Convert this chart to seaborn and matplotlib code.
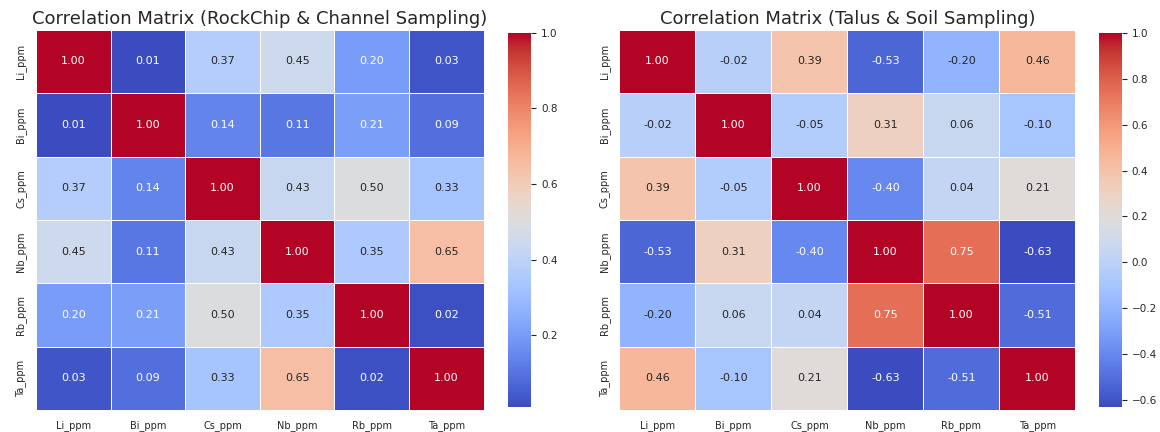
import numpy as np
import pandas as pd
import matplotlib
matplotlib.use("Agg")
import matplotlib.pyplot as plt
import seaborn as sns

elements = ["Li_ppm", "Bi_ppm", "Cs_ppm", "Nb_ppm", "Rb_ppm", "Ta_ppm"]

rockchip_li = [1.00, 0.01, 0.37, 0.45, 0.20, 0.03]
rockchip_bi = [0.01, 1.00, 0.14, 0.11, 0.21, 0.09]
rockchip_cs = [0.37, 0.14, 1.00, 0.43, 0.50, 0.33]
rockchip_nb = [0.45, 0.11, 0.43, 1.00, 0.35, 0.65]
rockchip_rb = [0.20, 0.21, 0.50, 0.35, 1.00, 0.02]
rockchip_ta = [0.03, 0.09, 0.33, 0.65, 0.02, 1.00]

talus_li = [1.00, -0.02, 0.39, -0.53, -0.20, 0.46]
talus_bi = [-0.02, 1.00, -0.05, 0.31, 0.06, -0.10]
talus_cs = [0.39, -0.05, 1.00, -0.40, 0.04, 0.21]
talus_nb = [-0.53, 0.31, -0.40, 1.00, 0.75, -0.63]
talus_rb = [-0.20, 0.06, 0.04, 0.75, 1.00, -0.51]
talus_ta = [0.46, -0.10, 0.21, -0.63, -0.51, 1.00]

rock_corr = pd.DataFrame([rockchip_li, rockchip_bi, rockchip_cs,
                          rockchip_nb, rockchip_rb, rockchip_ta],
                         index=elements, columns=elements)
talus_corr = pd.DataFrame([talus_li, talus_bi, talus_cs,
                           talus_nb, talus_rb, talus_ta],
                          index=elements, columns=elements)

sns.set_style("white")
plt.rcParams["font.family"] = ["DejaVu Sans"]

fig = plt.figure(figsize=(11.6, 4.32), dpi=100)
ax1 = fig.add_axes([0.031, 0.051, 0.386, 0.880])
cax1 = fig.add_axes([0.438, 0.058, 0.020, 0.866])
ax2 = fig.add_axes([0.534, 0.051, 0.393, 0.880])
cax2 = fig.add_axes([0.947, 0.058, 0.020, 0.866])

for ax, cax, data, title in [
    (ax1, cax1, rock_corr, "Correlation Matrix (RockChip & Channel Sampling)"),
    (ax2, cax2, talus_corr, "Correlation Matrix (Talus & Soil Sampling)"),
]:
    sns.heatmap(data, ax=ax, cbar_ax=cax, cmap="coolwarm", annot=True,
                fmt=".2f", linewidths=0.5, linecolor="white",
                annot_kws={"fontsize": 8})
    ax.set_title(title, fontsize=13, pad=4)
    ax.tick_params(axis="both", labelsize=7, length=0)
    ax.tick_params(axis="x", pad=7)
    ax.tick_params(axis="y", pad=7)
    cax.tick_params(labelsize=7.5)

fig.savefig("out.png", dpi=100)
